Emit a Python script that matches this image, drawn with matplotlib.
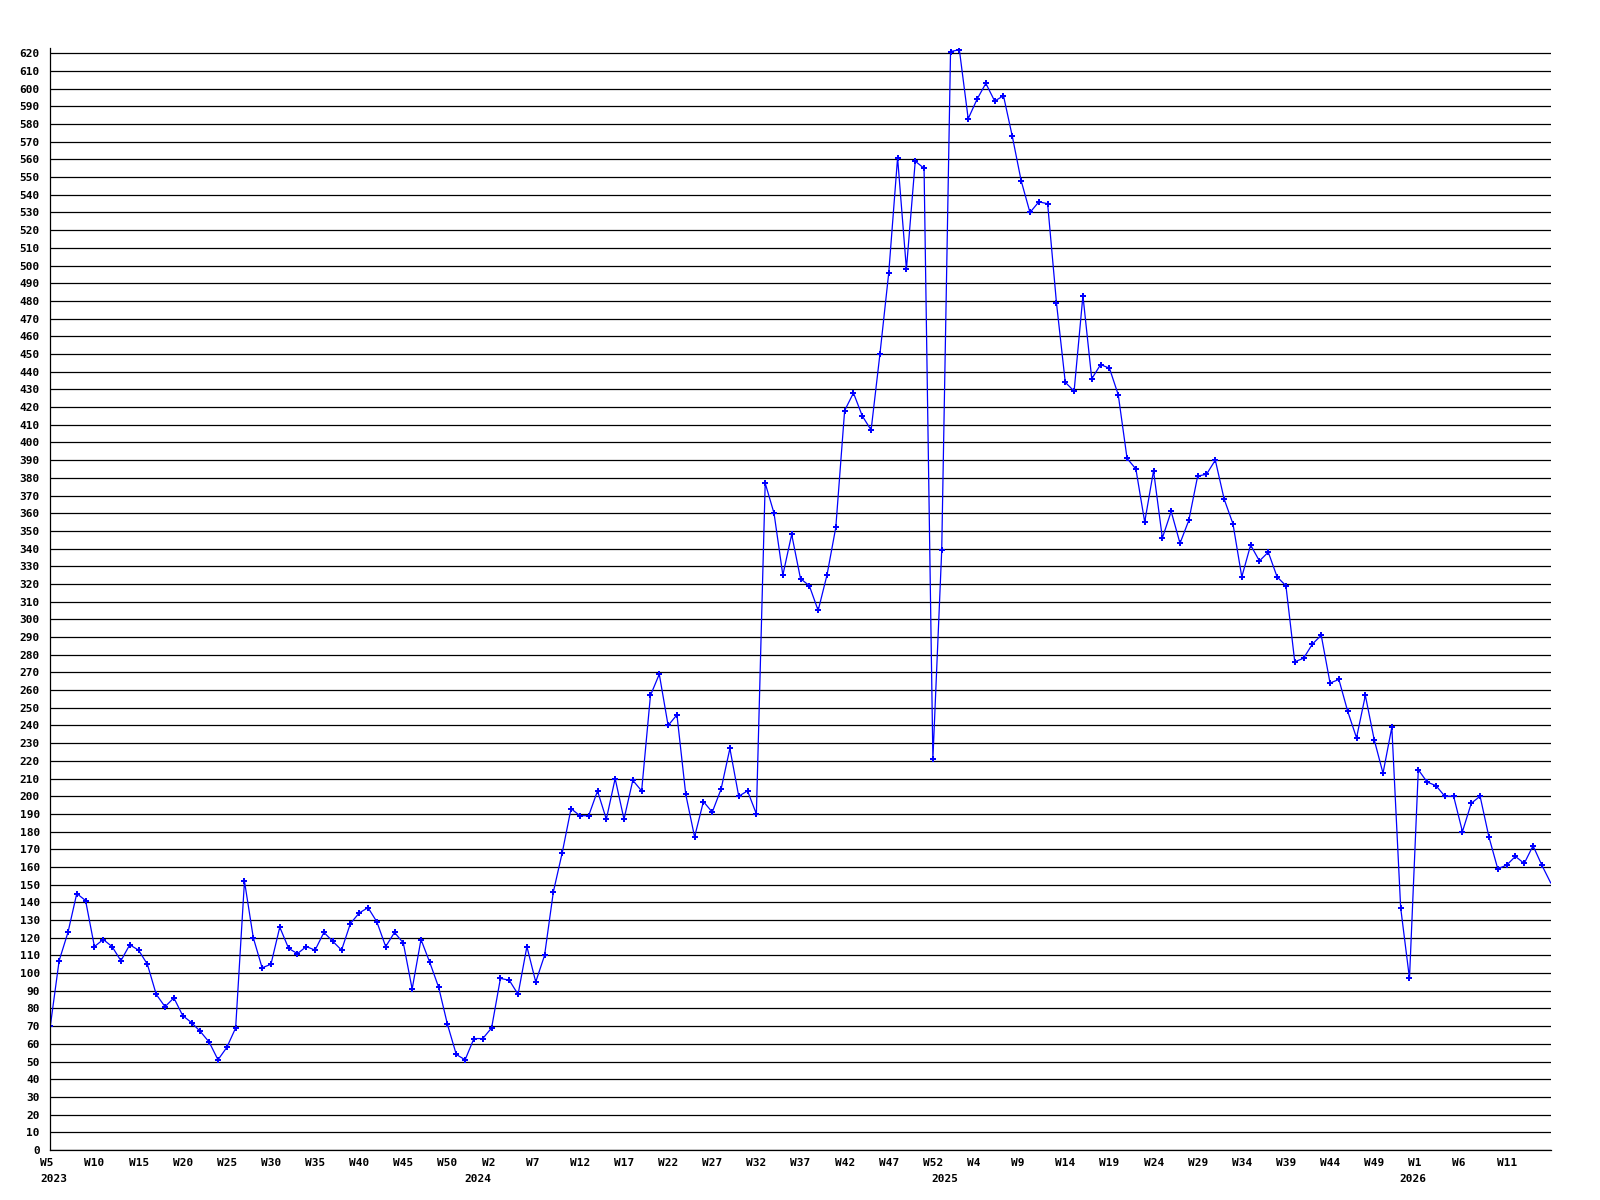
import matplotlib
matplotlib.use("Agg")
import matplotlib.pyplot as plt
import matplotlib.transforms as mtransforms

# ---- data (weekly values, evenly spaced points) ----
values = [
    70, 107, 123, 145, 141, 115, 119, 115, 107, 116,
    113, 105, 88, 81, 86, 76, 72, 67, 61, 51,
    58, 69, 152, 120, 103, 105, 126, 114, 111, 115,
    113, 123, 118, 113, 128, 134, 137, 129, 115, 123,
    117, 91, 119, 106, 92, 71, 54, 51, 63, 63,
    69, 97, 96, 88, 115, 95, 110, 146, 168, 193,
    189, 189, 203, 187, 210, 187, 209, 203, 257, 269,
    240, 246, 201, 177, 197, 191, 204, 227, 200, 203,
    190, 377, 360, 325, 348, 323, 319, 305, 325, 352,
    418, 428, 415, 407, 450, 496, 561, 498, 559, 555,
    221, 339, 621, 622, 583, 594, 603, 593, 596, 573,
    548, 530, 536, 535, 479, 434, 429, 483, 436, 444,
    442, 427, 391, 385, 355, 384, 346, 361, 343, 356,
    381, 382, 390, 368, 354, 324, 342, 333, 338, 324,
    319, 276, 278, 286, 291, 264, 266, 248, 233, 257,
    232, 213, 239, 137, 97, 215, 208, 206, 200, 200,
    180, 196, 200, 177, 159, 161, 166, 162, 172, 161,
    151,
]

week_labels = [
    "W5", "W10", "W15", "W20", "W25", "W30", "W35", "W40", "W45", "W50",
    "W2", "W7", "W12", "W17", "W22", "W27", "W32", "W37", "W42", "W47", "W52",
    "W4", "W9", "W14", "W19", "W24", "W29", "W34", "W39", "W44", "W49",
    "W1", "W6", "W11",
]
week_label_every = 5

year_labels = ["2023", "2024", "2025", "2026"]
year_label_pos = [0, 48, 101, 154]

y_ticks = list(range(0, 621, 10))

# ---- figure ----
W, H, DPI = 1600, 1200, 100
fig = plt.figure(figsize=(W / DPI, H / DPI), dpi=DPI, facecolor="white")
left_px, right_px = 50.3, 1550.7
bottom_px = 1150.0
ymax = 623
px_per_unit = (1150.0 - 53.3) / 620.0
top_px = bottom_px - ymax * px_per_unit
ax = fig.add_axes([left_px / W, 1 - bottom_px / H,
                   (right_px - left_px) / W, (bottom_px - top_px) / H])

font = dict(family="DejaVu Sans Mono", weight="bold", size=8)

x = list(range(len(values)))
ax.set_xlim(0, len(values) - 1)
ax.set_ylim(0, ymax)

for t in y_ticks:
    ax.axhline(t, color="black", linewidth=0.9, zorder=1)

ax.plot(x, values, color="#0000ff", linewidth=0.9, marker="P",
        markersize=4.8, markeredgewidth=0, zorder=3,
        markevery=list(range(len(values) - 1)))

ax.set_yticks(y_ticks)
ax.set_yticklabels([str(t) for t in y_ticks], fontdict=font)
ax.tick_params(axis="y", length=0, pad=7.5)
ax.set_xticks([])

for s in ["top", "right"]:
    ax.spines[s].set_visible(False)
ax.spines["left"].set_color("black")
ax.spines["bottom"].set_color("black")
ax.spines["left"].set_linewidth(0.9)
ax.spines["bottom"].set_linewidth(0.9)
ax.spines["left"].set_zorder(4)

blend = mtransforms.blended_transform_factory(ax.transData, ax.transAxes)
off_w = mtransforms.ScaledTranslation(-10 / DPI, -7.5 / DPI, fig.dpi_scale_trans)
off_y = mtransforms.ScaledTranslation(-10 / DPI, -23.5 / DPI, fig.dpi_scale_trans)

for k, lab in enumerate(week_labels):
    ax.text(k * week_label_every, 0, lab, transform=blend + off_w,
            ha="left", va="top", clip_on=False, **font)

for lab, pos in zip(year_labels, year_label_pos):
    ax.text(pos, 0, lab, transform=blend + off_y,
            ha="left", va="top", clip_on=False, **font)

fig.savefig("out.png", dpi=DPI, facecolor="white")
